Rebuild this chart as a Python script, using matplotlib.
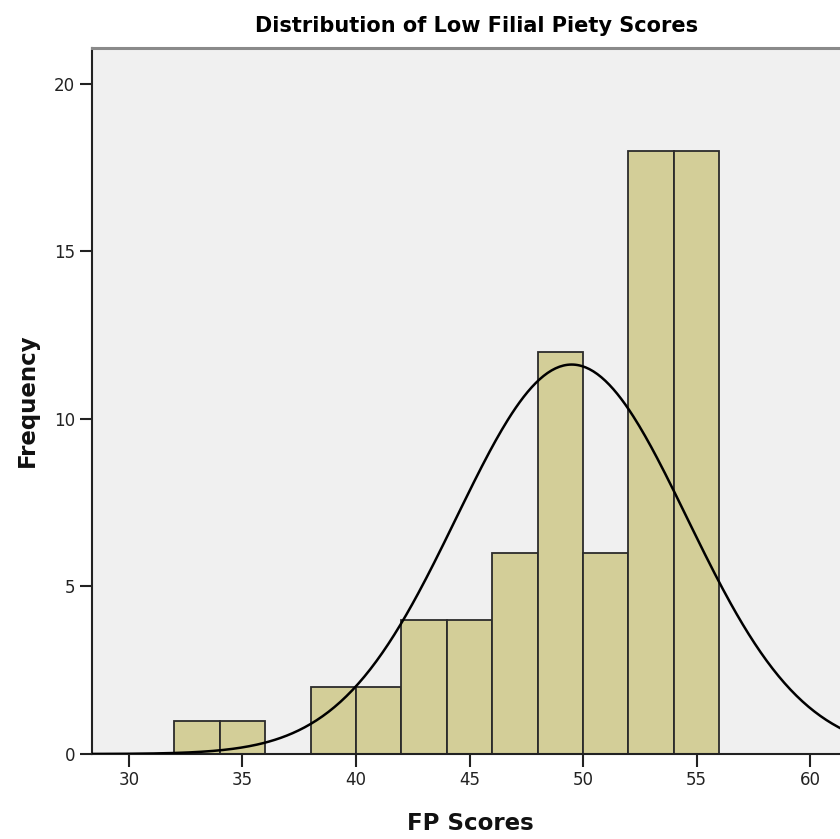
import matplotlib
matplotlib.use("Agg")
import matplotlib.pyplot as plt
import numpy as np

# FP scores histogram, bins of width 2
bin_left = [32, 34, 36, 38, 40, 42, 44, 46, 48, 50, 52, 54]
counts = [1, 1, 0, 2, 2, 4, 4, 6, 12, 6, 18, 18]
bin_width = 2

# normal curve fitted by SPSS
mean_fp = 49.5
sd_fp = 5.08
n_total = sum(counts)

x_ticks = [30, 35, 40, 45, 50, 55, 60]
y_ticks = [0, 5, 10, 15, 20]

fig = plt.figure(figsize=(8.4, 8.39), dpi=100)
ax = fig.add_axes([0.1095, 0.1013, 0.8905, 0.8415])
ax.set_facecolor("#F0F0F0")

ax.bar(bin_left, counts, width=bin_width, align="edge",
       color="#D3CE98", edgecolor="#2B2B2B", linewidth=1.3, zorder=2)

xs = np.linspace(28, 63, 400)
ys = n_total * bin_width / (sd_fp * np.sqrt(2 * np.pi)) * np.exp(-(xs - mean_fp) ** 2 / (2 * sd_fp ** 2))
ax.plot(xs, ys, color="black", linewidth=1.8, zorder=3)

ax.set_xlim(28.37, 61.32)
ax.set_ylim(0, 21.07)
ax.set_xticks(x_ticks)
ax.set_yticks(y_ticks)
ax.tick_params(axis="both", direction="out", length=9, width=1.5, color="#222222",
               labelsize=12, labelcolor="#222222", pad=3)

ax.spines["right"].set_visible(False)
ax.spines["top"].set_color("#8A8A8A")
ax.spines["top"].set_linewidth(2.2)
ax.spines["left"].set_color("#222222")
ax.spines["left"].set_linewidth(1.5)
ax.spines["bottom"].set_color("#222222")
ax.spines["bottom"].set_linewidth(1.5)

fig.text(0.567, 0.969, "Distribution of Low Filial Piety Scores", ha="center", va="center",
         fontsize=15, fontweight="bold", family=["Liberation Sans Narrow", "DejaVu Sans"])
fig.text(0.56, 0.018, "FP Scores", ha="center", va="center",
         fontsize=16.5, fontweight="bold", color="#111111")
fig.text(0.032, 0.523, "Frequency", ha="center", va="center", rotation=90,
         fontsize=16.5, fontweight="bold", color="#111111")

fig.savefig("out.png", dpi=100)
